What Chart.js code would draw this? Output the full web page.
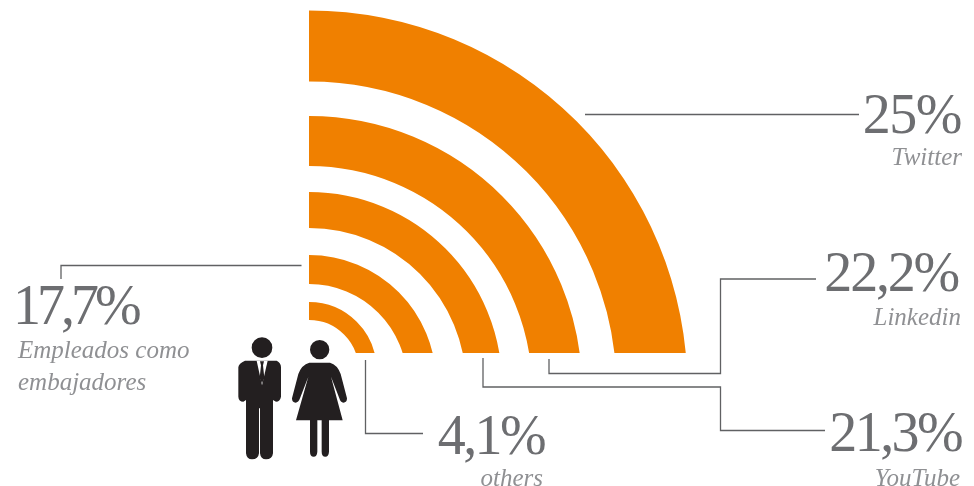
<!DOCTYPE html>
<html>
<head>
<meta charset="utf-8">
<title>Social media share</title>
<script src="https://cdn.jsdelivr.net/npm/chart.js@4"></script>
<style>
    html, body { margin: 0; padding: 0; background: #fff; overflow: hidden; }
    canvas { display: block; }
</style>
</head>
<body>
<canvas id="chart" width="974" height="486"></canvas>
<script>
var categories = ["Twitter", "Linkedin", "YouTube", "Empleados como embajadores", "others"];
var shares = [25, 22.2, 21.3, 17.7, 4.1];

// ring radii in px, outermost first. each ring has its own centre drop below the baseline
var ringOuter = [378.5, 273, 193, 127, 67.5];
var ringInner = [307.5, 223, 157, 98, 49.5];
var ringDrop = [36, 36, 32, 29, 16.5];

var ORANGE = "#f08000";
var BASE_X = 309, BASE_Y = 353;

// rings and the transparent gaps between them, thickness goes in as the weight
var datasets = [];
var dropByDataset = [];
shares.forEach(function(share, i) {
    datasets.push({
        label: categories[i],
        data: [share],
        backgroundColor: ORANGE,
        borderWidth: 0,
        weight: ringOuter[i] - ringInner[i],
        clip: false
    });
    dropByDataset.push(ringDrop[i]);
    if (i < shares.length - 1) {
        datasets.push({
            data: [1],
            backgroundColor: "transparent",
            borderWidth: 0,
            weight: ringInner[i] - ringOuter[i + 1],
            clip: false
        });
        dropByDataset.push(ringDrop[i]);
    }
});

// cut everything at the flat baseline, then slide each ring to its own centre
var ringLayout = {
    id: "ringLayout",
    beforeDatasetsDraw: function(chart) {
        var ctx = chart.ctx;
        ctx.save();
        ctx.beginPath();
        ctx.rect(BASE_X, 0, chart.width - BASE_X, BASE_Y);
        ctx.clip();
    },
    beforeDatasetDraw: function(chart, args) {
        chart.ctx.save();
        chart.ctx.translate(0, dropByDataset[args.index] - ringDrop[0]);
    },
    afterDatasetDraw: function(chart) {
        chart.ctx.restore();
    },
    afterDatasetsDraw: function(chart) {
        chart.ctx.restore();
    }
};

var leaders = [
    [[585, 114.5], [859, 114.5]],
    [[549, 359], [549, 373.5], [720.5, 373.5], [720.5, 279], [816, 279]],
    [[483, 358], [483, 387], [720.5, 387], [720.5, 430.5], [825, 430.5]],
    [[301.5, 265.5], [61, 265.5], [61, 279]],
    [[365.5, 360], [365.5, 433.5], [423, 433.5]]
];

// big figure and caption per ring: edge to align on, baselines
var captions = [
    { x: 961, y: 133, align: "right", spacing: -1.5, sub: ["Twitter"], subX: 962, subY: 165 },
    { x: 958, y: 291, align: "right", spacing: -2.2, sub: ["Linkedin"], subX: 961, subY: 325 },
    { x: 961, y: 451, align: "right", spacing: -2.6, sub: ["YouTube"], subX: 960, subY: 486 },
    { x: 13, y: 324, align: "left", spacing: -4, sub: ["Empleados como", "embajadores"], subX: 18, subY: 358, step: 32 },
    { x: 544, y: 454, align: "right", spacing: -2.6, sub: ["others"], subX: 543, subY: 486 }
];

var man = new Path2D("M45 332L140 332Q153 338 153 352L153 440Q150 455 138 455L129 450L129 610Q127 628 108 628Q92 628 90 610L90 475L87 475L87 610Q85 628 66 628Q50 628 48 610L48 450L40 455Q26 455 25 440L25 352Q26 340 45 332Z");
var shirt = new Path2D("M80 332L113 332L96 406Z");
var tie = new Path2D("M90 334L102 334L99 346L103 384L96 400L89 384L93 346Z");
var woman = new Path2D("M238 338L300 338Q322 344 332 372L351 445Q351 458 340 458Q332 458 328 445L303 380L338 511L297 511L297 605Q296 620 286 620Q275 620 275 605L275 511L262 511L262 605Q261 620 251 620Q240 620 240 605L240 511L198 511L235 380L210 445Q205 458 197 458Q186 458 186 445L205 372Q215 344 238 338Z");

var annotations = {
    id: "annotations",
    afterDraw: function(chart) {
        var ctx = chart.ctx;
        ctx.save();

        // leader lines
        ctx.strokeStyle = "#606163";
        ctx.lineWidth = 1.3;
        leaders.forEach(function(line) {
            ctx.beginPath();
            line.forEach(function(p, i) {
                if (i === 0) ctx.moveTo(p[0], p[1]);
                else ctx.lineTo(p[0], p[1]);
            });
            ctx.stroke();
        });

        // the two pictograms
        ctx.save();
        ctx.translate(230, 250);
        ctx.scale(1 / 3, 1 / 3);
        ctx.fillStyle = "#231f20";
        ctx.fill(man);
        ctx.fill(woman);
        ctx.beginPath();
        ctx.arc(96, 293, 31, 0, Math.PI * 2);
        ctx.arc(269, 299, 29, 0, Math.PI * 2);
        ctx.fill();
        ctx.fillStyle = "#fff";
        ctx.fill(shirt);
        ctx.fillStyle = "#231f20";
        ctx.fill(tie);
        ctx.restore();

        // percentages and captions
        ctx.textBaseline = "alphabetic";
        captions.forEach(function(c, i) {
            ctx.font = "56px 'Liberation Serif'";
            ctx.letterSpacing = c.spacing + "px";
            ctx.fillStyle = "#6d6e71";
            ctx.textAlign = c.align;
            ctx.fillText(String(shares[i]).replace(".", ",") + "%", c.x, c.y);
            ctx.font = "italic 25px 'Liberation Serif'";
            ctx.letterSpacing = "0px";
            ctx.fillStyle = "#8f9093";
            c.sub.forEach(function(txt, n) {
                ctx.fillText(txt, c.subX, c.subY + n * (c.step || 0));
            });
        });
        ctx.restore();
    }
};

var ctx = document.getElementById("chart");
var chart = new Chart(ctx, {
    type: "doughnut",
    data: {
        labels: [""],
        datasets: datasets
    },
    options: {
        responsive: false,
        animation: false,
        rotation: 0,
        circumference: 90,
        cutout: (ringInner[4] / ringOuter[0] * 100) + "%",
        // chart area is the box of the outer quarter circle
        layout: {
            padding: {
                left: BASE_X,
                right: 974 - BASE_X - ringOuter[0],
                top: BASE_Y + ringDrop[0] - ringOuter[0],
                bottom: 486 - BASE_Y - ringDrop[0]
            }
        },
        plugins: {
            legend: { display: false },
            tooltip: { enabled: false }
        }
    },
    plugins: [ringLayout, annotations]
});
</script>
</body>
</html>
